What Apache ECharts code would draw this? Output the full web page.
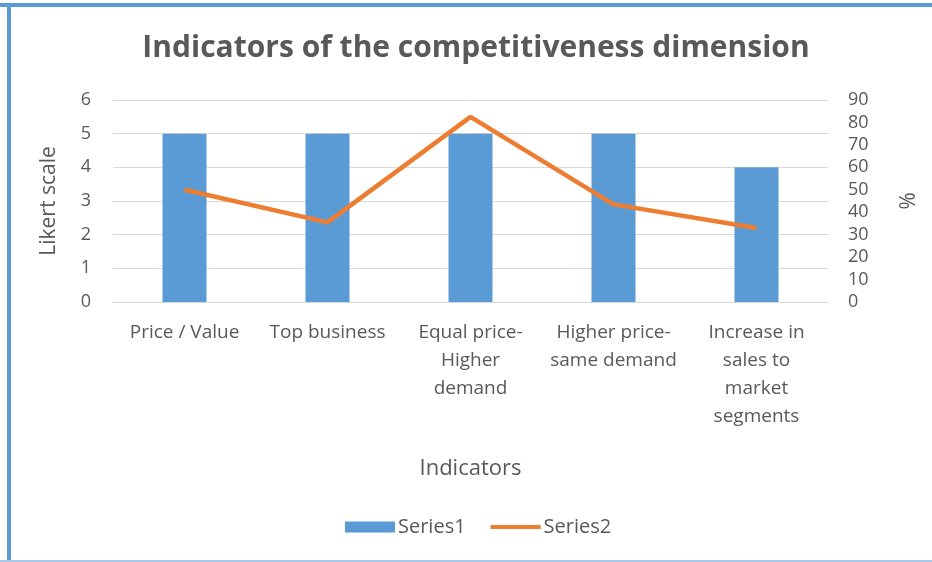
<!DOCTYPE html>
<html>
<head>
<meta charset="utf-8">
<script src="https://cdn.jsdelivr.net/npm/echarts@6/dist/echarts.min.js"></script>
<style>
  html, body { margin: 0; padding: 0; background: #fff; }
  #chart { width: 932px; height: 562px; }
</style>
</head>
<body>
<div id="chart"></div>
<script>
// data
var categories = ['Price / Value', 'Top business', 'Equal price-\nHigher\ndemand', 'Higher price-\nsame demand', 'Increase in\nsales to\nmarket\nsegments'];
var series1 = [5, 5, 5, 5, 4];          // Likert scale
var series2 = [50, 35.5, 82.5, 43.5, 33]; // %

var textColor = '#595959';
var font = 'Open Sans';

var chart = echarts.init(document.getElementById('chart'));
chart.setOption({
  backgroundColor: '#fff',
  textStyle: { fontFamily: font },
  graphic: [
    // blue frame of the original picture
    { type: 'rect', left: 0, top: 3, shape: { width: 932, height: 4 }, style: { fill: '#5B9BD5' } },
    { type: 'rect', left: 7, top: 3, shape: { width: 4, height: 559 }, style: { fill: '#5B9BD5' } },
    { type: 'rect', left: 0, top: 560, shape: { width: 932, height: 2 }, style: { fill: '#A9C8E8' } }
  ],
  title: {
    text: 'Indicators of the competitiveness dimension',
    left: 471,
    textAlign: 'center',
    top: 28,
    textStyle: { fontFamily: font, fontSize: 30, fontWeight: 'bold', color: textColor }
  },
  legend: {
    bottom: 25,
    left: 345,
    padding: 0,
    itemWidth: 50,
    itemHeight: 11,
    itemGap: 25,
    textStyle: { fontFamily: font, fontSize: 20, color: textColor, padding: [0, 0, 0, -2] },
    data: [
      { name: 'Series1', icon: 'rect' },
      { name: 'Series2', icon: 'path://M0,0 H50 V4 H0 Z' }
    ]
  },
  grid: { left: 113, right: 104, top: 100, bottom: 260 },
  xAxis: {
    type: 'category',
    data: categories,
    name: 'Indicators',
    nameLocation: 'middle',
    nameGap: 156,
    nameTextStyle: { fontFamily: font, fontSize: 22, color: textColor },
    axisLine: { lineStyle: { color: '#D9D9D9' } },
    axisTick: { show: false },
    axisLabel: { interval: 0, fontFamily: font, fontSize: 19, color: textColor, lineHeight: 28, margin: 17 }
  },
  yAxis: [
    {
      type: 'value',
      min: 0, max: 6, interval: 1,
      name: 'Likert scale',
      nameLocation: 'middle',
      nameGap: 53,
      nameTextStyle: { fontFamily: font, fontSize: 21, color: textColor },
      axisLine: { show: false },
      axisTick: { show: false },
      axisLabel: { fontFamily: font, fontSize: 18, color: textColor, margin: 22 },
      splitLine: { lineStyle: { color: '#D9D9D9' } }
    },
    {
      type: 'value',
      min: 0, max: 90, interval: 10,
      name: '%',
      nameLocation: 'middle',
      nameGap: 66,
      nameRotate: -90,
      nameTextStyle: { fontFamily: font, fontSize: 21, color: textColor },
      axisLine: { show: false },
      axisTick: { show: false },
      axisLabel: { fontFamily: font, fontSize: 18, color: textColor, margin: 20 },
      splitLine: { show: false }
    }
  ],
  series: [
    {
      name: 'Series1',
      type: 'bar',
      yAxisIndex: 0,
      data: series1,
      barWidth: 44,
      itemStyle: { color: '#5B9BD5' }
    },
    {
      name: 'Series2',
      type: 'line',
      yAxisIndex: 1,
      data: series2,
      symbol: 'none',
      lineStyle: { color: '#ED7D31', width: 4.5 },
      itemStyle: { color: '#ED7D31' }
    }
  ]
});
</script>
</body>
</html>
